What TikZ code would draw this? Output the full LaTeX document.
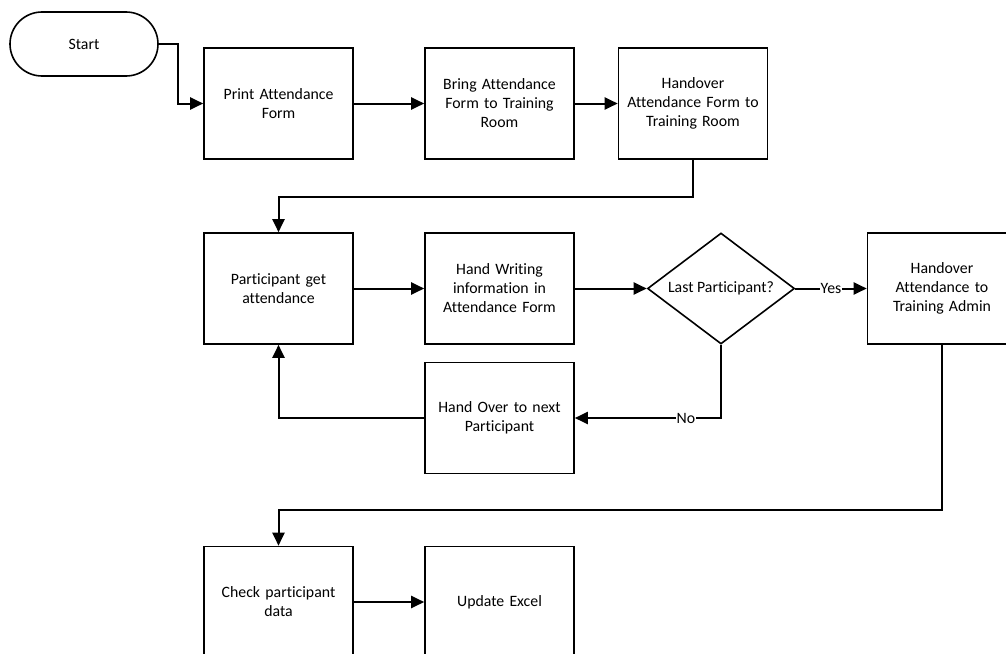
\documentclass[tikz,border=0pt]{standalone}
\usepackage{fontspec}
\setmainfont{Carlito}[Ligatures=NoCommon]
\usetikzlibrary{shapes.geometric,arrows.meta}

\tikzset{
  every node/.style={font=\fontsize{15.8}{19}\selectfont},
  stepbox/.style={draw,line width=1.6pt,minimum width=149pt,minimum height=111pt,
    text width=140pt,align=center,inner sep=0pt},
  terminal/.style={draw,line width=1.6pt,rounded corners=32pt,minimum width=148pt,
    minimum height=64pt,inner sep=0pt},
  decision/.style={draw,diamond,line width=1.6pt,shape aspect=1.32,minimum width=147pt,
    minimum height=111pt,inner sep=0pt},
  flow/.style={line width=2pt,-{Triangle[length=13pt,width=12pt]}},
  edgelabel/.style={fill=white,inner sep=1pt}
}

\begin{document}
\begin{tikzpicture}[x=1pt,y=-1pt]
\clip (0,0) rectangle (1006,653);
\useasboundingbox (0,0) rectangle (1006,653);
% First row
\node[terminal] (start) at (84,44) {Start};
\node[stepbox] (print) at (278.5,103.5) {Print Attendance\\Form};
\node[stepbox] (bring) at (499.5,103.5) {Bring Attendance\\Form to Training\\Room};
\node[stepbox] (handform) at (693,103.5) {Handover\\Attendance Form to\\Training Room};
% Second row
\node[stepbox] (getform) at (278.5,288.5) {Participant get\\attendance};
\node[stepbox] (write) at (499.5,288.5) {Hand Writing\\information in\\Attendance Form};
\node[decision] (last) at (721,288.5) {Last Participant?};
\node[stepbox] (admin) at (942,288.5) {Handover\\Attendance to\\Training Admin};
% Loop back
\node[stepbox] (next) at (499.5,418) {Hand Over to next\\Participant};
% Last row
\node[stepbox] (check) at (278.5,602) {Check participant\\data};
\node[stepbox] (excel) at (499.5,602) {Update Excel};
% Connectors
\draw[flow] (start.east) -- ++(19,0) |- (print);
\draw[flow] (print) -- (bring);
\draw[flow] (bring) -- (handform);
\draw[flow] (handform.south) -- ++(0,37) -| (getform);
\draw[flow] (getform) -- (write);
\draw[flow] (write) -- (last);
\draw[flow] (last) -- node[edgelabel] {Yes} (admin);
\draw[flow] (last.south) |- node[edgelabel,pos=0.62] {No} (next);
\draw[flow] (next) -| (getform);
\draw[flow] (admin.south) -- ++(0,165) -| (check);
\draw[flow] (check) -- (excel);
\end{tikzpicture}
\end{document}
